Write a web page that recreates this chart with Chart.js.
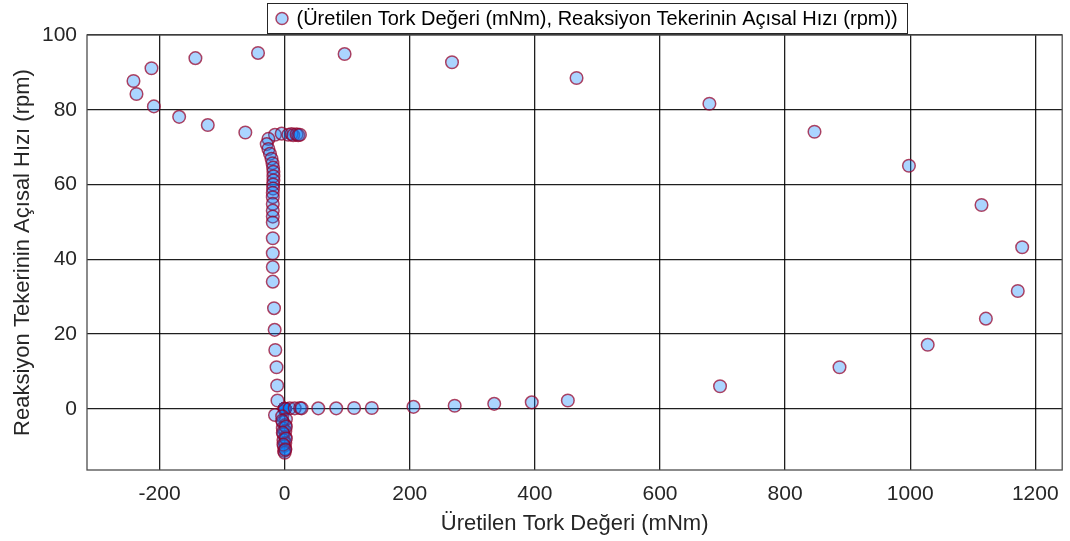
<!DOCTYPE html>
<html>
<head>
<meta charset="utf-8">
<title>Üretilen Tork ve Reaksiyon Tekeri Hızı</title>
<script src="https://cdn.jsdelivr.net/npm/chart.js@4/dist/chart.umd.min.js"></script>
<style>
  html, body { margin: 0; padding: 0; background: #ffffff; }
  #wrap { width: 1070px; height: 541px; }
</style>
</head>
<body>
<div id="wrap"><canvas id="c" width="1070" height="541"></canvas></div>
<script>
// Generated torque (mNm)
const torque = [
  0, 0, 0, 0, 0, 0, 0, 0, 0, 8, 16, 24.7, 27, 53.7, 82.4, 111, 139.3,
  205.9, 271.8, 335, 395, 452.7,
  696, 887, 1028, 1121, 1172, 1179, 1114, 998, 847, 679,
  466.6, 267.5, 95.8, -42.6, -142.7, -212.9, -241.7, -236.9,
  -209.1, -168.7, -122.9, -62.9,
  -15.5, -4.8, 5.8, 11, 13.7, 19, 21.7, 24.4,
  -26, -28.7, -26, -23.5, -21, -19.5, -18.5, -18, -18, -18, -18.5,
  -18.5, -19, -19, -19, -19, -19, -19, -19, -19, -19, -19,
  -17, -16, -15, -13, -12, -11.5,
  -15.5, -4, 2, -3, 1, -3, 1, -2, 1, -2, 1, -1, 1, -1, 0,
  -4, 2, -3, 2, -2, 1
];
// Reaction wheel angular speed (rpm)
const speed = [
  0, 0, 0, 0, 0, 0, 0, 0, 0, 0.1, 0.1, 0.2, 0.1, 0.1, 0.1, 0.2, 0.2,
  0.5, 0.8, 1.3, 1.7, 2.2,
  6.0, 11.1, 17.1, 24.1, 31.5, 43.2, 54.5, 65.0, 74.1, 81.6,
  88.5, 92.7, 94.9, 95.2, 93.8, 91.1, 87.7, 84.2,
  80.9, 78.1, 75.9, 73.9,
  73.3, 73.6, 73.3, 73.5, 73.2, 73.4, 73.2, 73.3,
  72.2, 70.8, 69.5, 68.2, 66.9, 65.7, 64.5, 63.4, 62.2, 61.1, 60.0,
  58.9, 57.8, 56.6, 54.8, 53.0, 51.4, 49.8, 45.6, 41.6, 37.9, 34.0,
  26.9, 21.1, 15.7, 11.1, 6.2, 2.2,
  -1.7, -2.0, -2.8, -3.6, -4.4, -5.2, -6.0, -6.8, -7.6, -8.4, -9.2, -10.0, -10.7, -11.3, -11.8,
  -3.2, -4.8, -6.4, -8.0, -9.6, -11.0
];

const xTicks = [-200, 0, 200, 400, 600, 800, 1000, 1200];
const yTicks = [0, 20, 40, 60, 80, 100];
const xLimits = [-316, 1243];
const yLimits = [-16.4, 100];

const seriesLabel = '(Üretilen Tork Değeri (mNm), Reaksiyon Tekerinin Açısal Hızı (rpm))';
const xTitle = 'Üretilen Tork Değeri (mNm)';
const yTitle = 'Reaksiyon Tekerinin Açısal Hızı (rpm)';

const FONT = '"Liberation Sans", Arial, Helvetica, sans-serif';
const INK = '#262626';
const FILL = 'rgba(0,128,255,0.33)';
const EDGE = 'rgba(150,0,40,0.72)';

const points = torque.map((t, i) => ({ x: t, y: speed[i] }));

// Closed box around the plot area plus a bordered legend above it
const frameAndLegend = {
  id: 'frameAndLegend',
  afterDraw(chart) {
    const { ctx, chartArea: a } = chart;
    ctx.save();
    ctx.strokeStyle = '#4d4d4d';
    ctx.lineWidth = 1.3;
    ctx.strokeRect(a.left, a.top, a.right - a.left, a.bottom - a.top);

    const ds = chart.data.datasets[0];
    const bx = 267.5, by = 3.5, bw = 640, bh = 30;
    ctx.fillStyle = '#ffffff';
    ctx.fillRect(bx, by, bw, bh);
    ctx.strokeStyle = '#262626';
    ctx.lineWidth = 1;
    ctx.strokeRect(bx, by, bw, bh);

    ctx.beginPath();
    ctx.arc(bx + 14.5, by + bh / 2, 6, 0, Math.PI * 2);
    ctx.fillStyle = ds.backgroundColor;
    ctx.fill();
    ctx.lineWidth = 1.5;
    ctx.strokeStyle = ds.borderColor;
    ctx.stroke();

    ctx.fillStyle = '#000000';
    ctx.font = '20px ' + FONT;
    ctx.textAlign = 'left';
    ctx.textBaseline = 'middle';
    ctx.fillText(ds.label, bx + 29, by + bh / 2 + 1);
    ctx.restore();
  }
};

const plainTick = (v) => String(v);

new Chart(document.getElementById('c'), {
  type: 'scatter',
  data: {
    datasets: [{
      label: seriesLabel,
      data: points,
      pointRadius: 6.3,
      pointHoverRadius: 6.3,
      borderWidth: 1.5,
      backgroundColor: FILL,
      borderColor: EDGE
    }]
  },
  options: {
    responsive: false,
    animation: false,
    events: [],
    layout: { padding: { top: 35, right: 7, left: 0, bottom: 0 } },
    plugins: {
      legend: { display: false },
      tooltip: { enabled: false }
    },
    scales: {
      x: {
        type: 'linear',
        min: xLimits[0],
        max: xLimits[1],
        afterBuildTicks: (s) => { s.ticks = xTicks.map(v => ({ value: v })); },
        afterFit: (s) => { s.height = 71; s.paddingLeft = 0; s.paddingRight = 0; },
        grid: { color: 'rgba(0,0,0,0.88)', lineWidth: 1.3, drawTicks: false },
        border: { display: false },
        ticks: { color: INK, font: { family: FONT, size: 21 }, padding: 12, maxRotation: 0, callback: plainTick },
        title: {
          display: true, text: xTitle, color: INK,
          font: { family: FONT, size: 22 }, padding: { top: 0, bottom: 4 }
        }
      },
      y: {
        type: 'linear',
        min: yLimits[0],
        max: yLimits[1],
        afterBuildTicks: (s) => { s.ticks = yTicks.map(v => ({ value: v })); },
        afterFit: (s) => { s.width = 87; s.paddingTop = 0; s.paddingBottom = 0; },
        grid: { color: 'rgba(0,0,0,0.88)', lineWidth: 1.3, drawTicks: false },
        border: { display: false },
        ticks: { color: INK, font: { family: FONT, size: 21 }, padding: 10, callback: plainTick },
        title: {
          display: true, text: yTitle, color: INK,
          font: { family: FONT, size: 22 }, padding: { top: 10, bottom: 0 }
        }
      }
    }
  },
  plugins: [frameAndLegend]
});
</script>
</body>
</html>
